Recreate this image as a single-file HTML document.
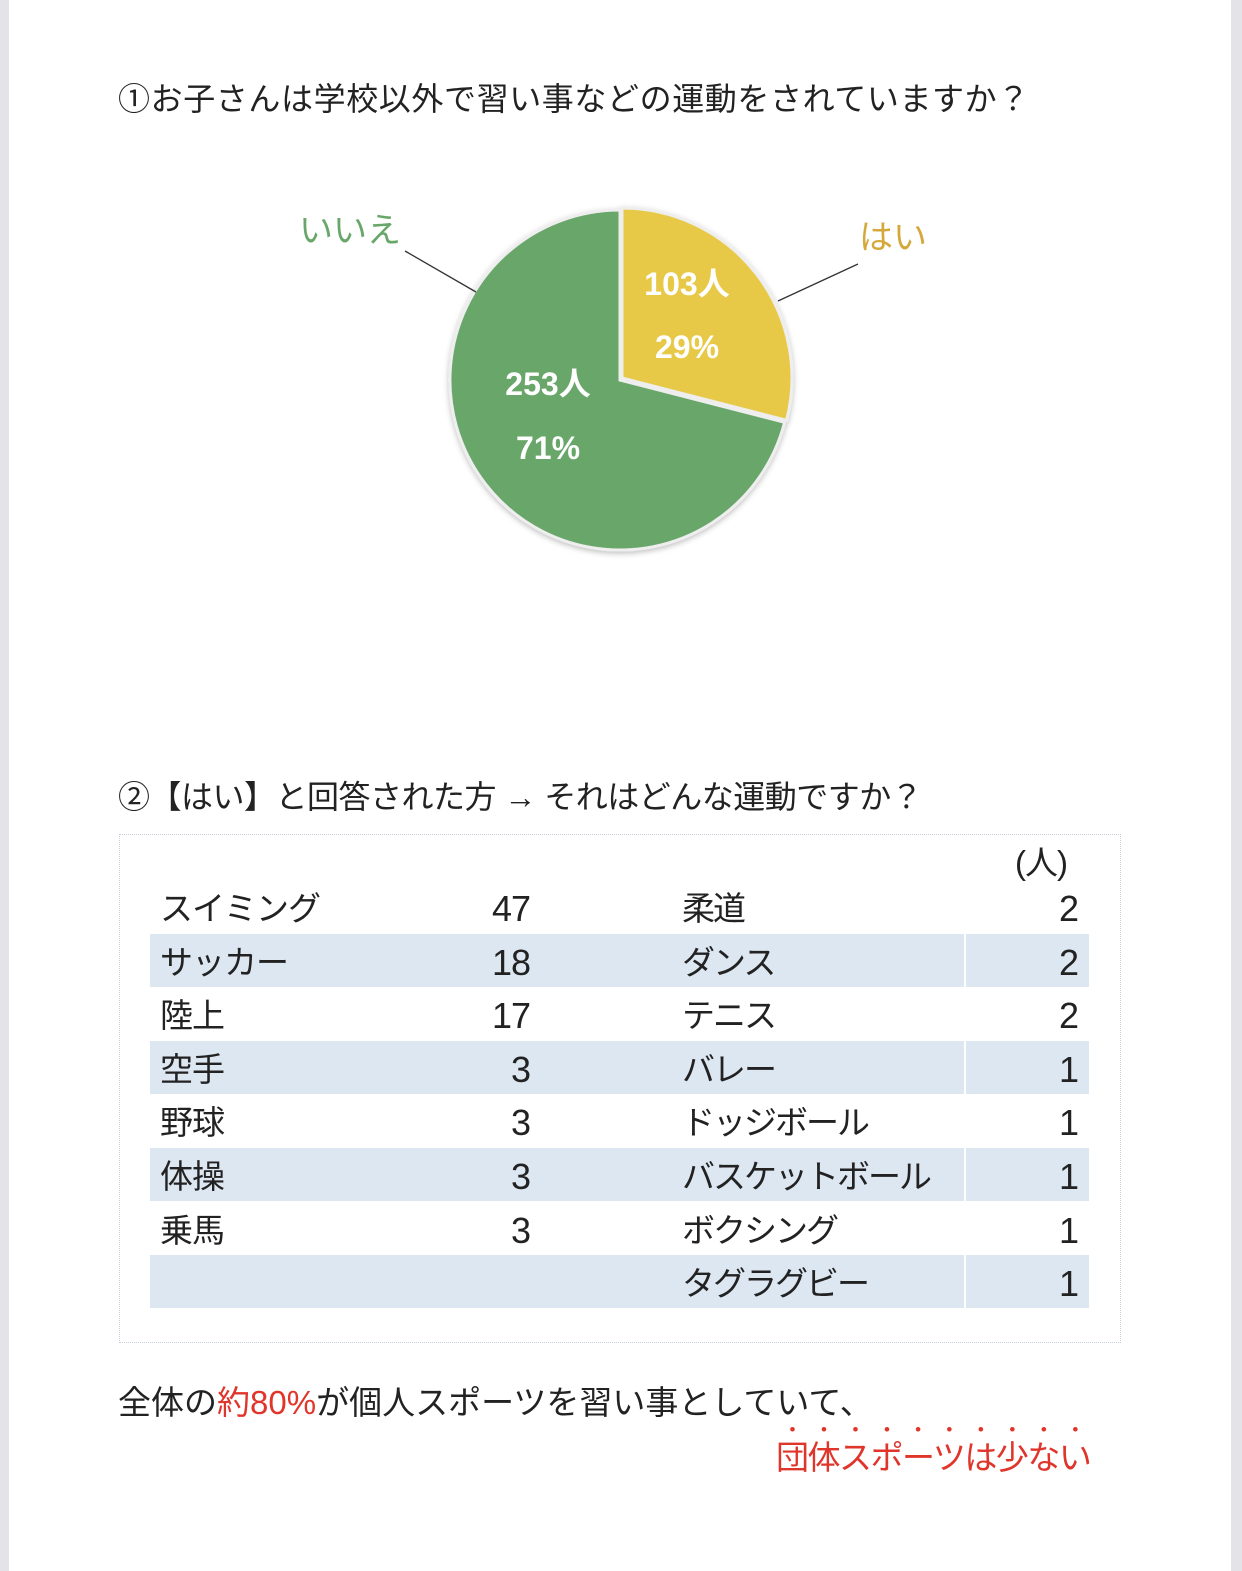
<!DOCTYPE html>
<html><head><meta charset="utf-8"><style>
body{margin:0;width:1242px;height:1571px;background:#fff;position:relative;overflow:hidden;font-family:"Liberation Sans","Noto Sans CJK JP",sans-serif;color:#222}
.bl{position:absolute;left:0;top:0;width:9px;height:1571px;background:#e4e4e8}
.br{position:absolute;right:0;top:0;width:11px;height:1571px;background:#e4e4e8}
.t{position:absolute;white-space:nowrap}
.box{position:absolute;left:119px;top:834px;width:1000px;height:507px;border:1px dotted #c8d0dc}
.s{position:absolute;left:150px;width:939px;height:53px;background:#dde7f2}
.gap{position:absolute;left:964px;width:2px;height:53px;background:#fff}
.r{font-size:33px;letter-spacing:-1px}
</style></head><body>
<div class="bl"></div><div class="br"></div>
<div class="t" style="left:118px;top:74px;font-size:32px;letter-spacing:0.6px">①お子さんは学校以外で習い事などの運動をされていますか？</div>
<svg style="position:absolute;left:0;top:0" width="1242" height="600">
<defs><filter id="sh"><feDropShadow dx="0" dy="2" stdDeviation="3" flood-color="#000" flood-opacity="0.25"/></filter></defs>
<g filter="url(#sh)">
<path d="M620 380 L784.6 422.3 A170 170 0 1 1 620 210 Z" fill="#69a66a" stroke="#eee" stroke-width="3"/>
<path d="M622 378 L622 208 A170 170 0 0 1 786.6 420.3 Z" fill="#e8c947" stroke="#eee" stroke-width="3"/>
</g>
<line x1="405" y1="251" x2="476" y2="292" stroke="#333" stroke-width="1.3"/>
<line x1="858" y1="264" x2="778" y2="301" stroke="#333" stroke-width="1.3"/>
<g font-family="Liberation Sans,'Noto Sans CJK JP',sans-serif" font-weight="bold" fill="#fff" font-size="32" text-anchor="middle">
<text x="687" y="295">103人</text><text x="687" y="358">29%</text>
<text x="548" y="395">253人</text><text x="548" y="459">71%</text>
</g>
<text x="350" y="242" fill="#69a66a" font-size="34" text-anchor="middle" font-family="Liberation Sans,'Noto Sans CJK JP',sans-serif">いいえ</text>
<text x="893" y="249" fill="#d4a83a" font-size="34" text-anchor="middle" font-family="Liberation Sans,'Noto Sans CJK JP',sans-serif">はい</text>
</svg>
<div class="t" style="left:118px;top:772px;font-size:32px;letter-spacing:-0.5px">②【はい】と回答された方 → それはどんな運動ですか？</div>
<div class="box"></div>
<div class="s" style="top:934px"></div><div class="s" style="top:1041px"></div><div class="s" style="top:1148px"></div><div class="s" style="top:1255px"></div>
<div class="gap" style="top:934px"></div><div class="gap" style="top:1041px"></div><div class="gap" style="top:1148px"></div><div class="gap" style="top:1255px"></div>
<div class="t r" style="left:1015px;top:836px">(人)</div>
<div class="t r" style="left:160px;top:882px;line-height:53.6px">スイミング<br>サッカー<br>陸上<br>空手<br>野球<br>体操<br>乗馬</div>
<div class="t r" style="left:440px;width:90px;text-align:right;top:882px;line-height:53.6px;font-size:36px">47<br>18<br>17<br>3<br>3<br>3<br>3</div>
<div class="t r" style="left:682px;top:882px;line-height:53.6px;letter-spacing:-2px">柔道<br>ダンス<br>テニス<br>バレー<br>ドッジボール<br>バスケットボール<br>ボクシング<br>タグラグビー</div>
<div class="t r" style="left:990px;width:88px;text-align:right;top:882px;line-height:53.6px;font-size:36px">2<br>2<br>2<br>1<br>1<br>1<br>1<br>1</div>
<div class="t" style="left:118px;top:1376px;font-size:33px">全体の<span style="color:#e0352b">約80%</span>が個人スポーツを習い事としていて、</div>
<div class="t" style="left:776px;top:1420px;font-size:33px;letter-spacing:-1.5px;color:#e0352b;-webkit-text-emphasis:dot;text-emphasis:filled dot;text-emphasis-position:over">団体スポーツは少ない</div>
</body></html>
